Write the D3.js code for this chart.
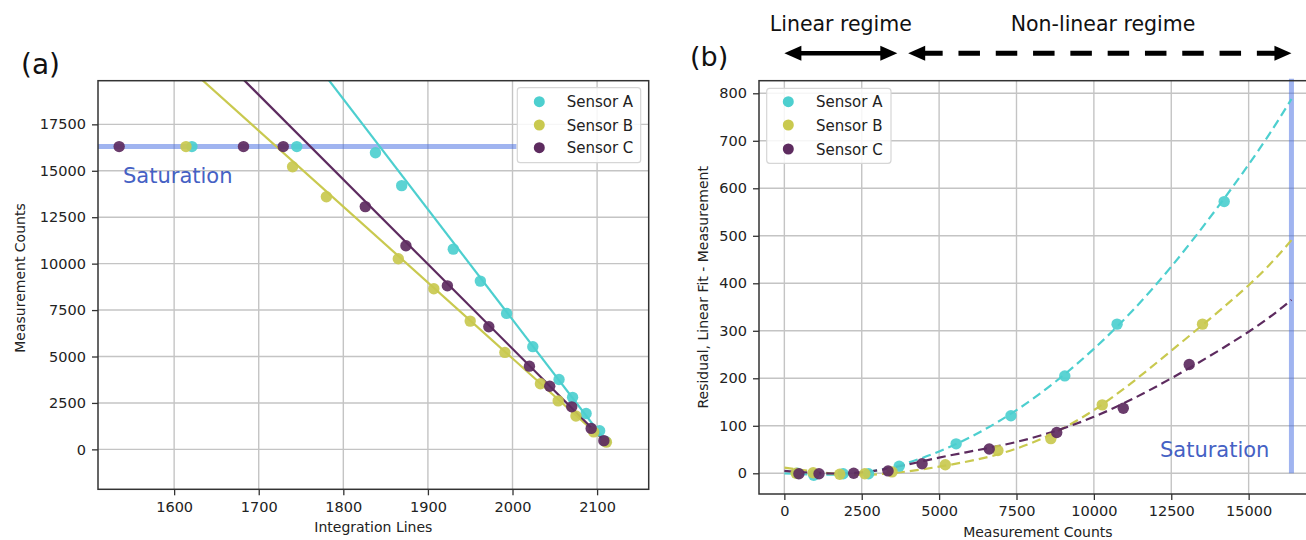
<!DOCTYPE html>
<html><head><meta charset="utf-8">
<script src="https://cdn.jsdelivr.net/npm/d3@7"></script>
<style>
html,body{margin:0;padding:0;background:#fff;}
svg{display:block;font-family:"DejaVu Sans",sans-serif;}
</style></head>
<body>
<svg id="chart" width="1306" height="540"></svg>
<script>
// ---------------- DATA ----------------
const sensors = ["Sensor A", "Sensor B", "Sensor C"];
const colors = ["#4dcfcf", "#c9c94f", "#5d2b5f"];
const saturation = 16383;

// Panel (a): integration lines vs measurement counts
const linesA  = [1621, 1745, 1838, 1869, 1930, 1962, 1993, 2024, 2055, 2071, 2087, 2103, 2110];
const countsA = [16383, 16383, 15970, 14200, 10780, 9060, 7320, 5530, 3760, 2800, 1930, 1000, 430];
const linesB  = [1614, 1740, 1780, 1865, 1907, 1950, 1991, 2033, 2054, 2075, 2096, 2111];
const countsB = [16383, 15220, 13600, 10260, 8650, 6905, 5220, 3530, 2610, 1800, 940, 390];
const linesC  = [1535, 1682, 1729, 1826, 1874, 1923, 1972, 2020, 2044, 2070, 2093, 2108];
const countsC = [16383, 16383, 16383, 13070, 10960, 8805, 6600, 4480, 3400, 2290, 1130, 470];

// Linear fit endpoints (panel a)
const fitLinesA = [1764, 2110], fitCountsA = [21000, 450];
const fitLinesB = [1606, 2110], fitCountsB = [21000, 400];
const fitLinesC = [1658, 2109], fitCountsC = [21000, 450];

// Panel (b): residuals vs measurement counts
const residX_A = [420, 950, 1900, 2720, 3710, 5550, 7320, 9060, 10750, 14210];
const resid_A  = [0, -4, -1, -1, 15, 62, 121, 205, 314, 572];
const residX_B = [380, 930, 1790, 2600, 3480, 5200, 6900, 8610, 10270, 13510];
const resid_B  = [0, 1, -2, -1, 3, 18, 48, 73, 144, 314];
const residX_C = [470, 1120, 2240, 3350, 4450, 6620, 8800, 10950, 13080];
const resid_C  = [-1, -1, 0, 5, 20, 51, 86, 137, 229];

// Fitted (non-linear) residual curves
const curveX = [0, 2500, 5000, 7500, 10000, 12500, 15000, 16383];
const curveA = [0, 1, 46, 133, 262, 435, 650, 788];
const curveB = [12, -3, 14, 52, 133, 258, 396, 491];
const curveC = [5, 2, 33, 66, 119, 200, 298, 365];

// Tick values
const ticksAx = [1600, 1700, 1800, 1900, 2000, 2100];
const ticksAy = [0, 2500, 5000, 7500, 10000, 12500, 15000, 17500];
const ticksBx = [0, 2500, 5000, 7500, 10000, 12500, 15000];
const ticksBy = [0, 100, 200, 300, 400, 500, 600, 700, 800];

// Regime annotation bounds (measurement counts)
const regimeLinear = [0, 3650];
const regimeNonLinear = [4000, 16383];

// ---------------- DRAW ----------------
const svg = d3.select("#chart");
svg.append("rect").attr("width", 1306).attr("height", 540).attr("fill", "#fff");

const gridColor = "#c4c4c4";
const textColor = "#222";

function drawAxes(g, x, y, xt, yt, box) {
  g.append("g").selectAll("line").data(xt).join("line")
    .attr("x1", d => x(d)).attr("x2", d => x(d))
    .attr("y1", box.top).attr("y2", box.bottom)
    .attr("stroke", gridColor).attr("stroke-width", 1.4);
  g.append("g").selectAll("line").data(yt).join("line")
    .attr("y1", d => y(d)).attr("y2", d => y(d))
    .attr("x1", box.left).attr("x2", box.right)
    .attr("stroke", gridColor).attr("stroke-width", 1.4);
}
function drawTicks(g, x, y, xt, yt, box) {
  const ax = g.append("g").attr("transform", `translate(0,${box.bottom})`)
    .call(d3.axisBottom(x).tickValues(xt).tickFormat(d3.format("d")).tickSize(6).tickPadding(6));
  const ay = g.append("g").attr("transform", `translate(${box.left},0)`)
    .call(d3.axisLeft(y).tickValues(yt).tickFormat(d3.format("d")).tickSize(6).tickPadding(6));
  [ax, ay].forEach(a => {
    a.select(".domain").remove();
    a.selectAll("line").attr("stroke", "#333").attr("stroke-width", 1.3);
    a.selectAll("text").attr("fill", textColor).style("font-size", "14.5px")
      .style("font-family", "DejaVu Sans");
  });
  g.append("rect").attr("x", box.left).attr("y", box.top)
    .attr("width", box.right - box.left).attr("height", box.bottom - box.top)
    .attr("fill", "none").attr("stroke", "#333").attr("stroke-width", 1.5);
}
function legend(g, lx, ly, w, h, mx, tx, rows) {
  g.append("rect").attr("x", lx).attr("y", ly).attr("width", w).attr("height", h)
    .attr("rx", 3).attr("fill", "#fff").attr("fill-opacity", 0.85)
    .attr("stroke", "#d6d6d6").attr("stroke-width", 1.2);
  sensors.forEach((s, i) => {
    g.append("circle").attr("cx", mx).attr("cy", rows[i]).attr("r", 5.5).attr("fill", colors[i]);
    g.append("text").attr("x", tx).attr("y", rows[i] + 5.5).text(s)
      .attr("fill", textColor).style("font-size", "15px");
  });
}

// ===== Panel (a) =====
const boxA = {left: 98, right: 648.7, top: 80.7, bottom: 489.3};
const xA = d3.scaleLinear().domain([1510, 2161]).range([boxA.left, boxA.right]);
const yA = d3.scaleLinear().domain([-2150, 19850]).range([boxA.bottom, boxA.top]);
const gA = svg.append("g");
svg.append("clipPath").attr("id", "clipA").append("rect")
  .attr("x", boxA.left).attr("y", boxA.top).attr("width", boxA.right - boxA.left).attr("height", boxA.bottom - boxA.top);
drawAxes(gA, xA, yA, ticksAx, ticksAy, boxA);

gA.append("line").attr("x1", boxA.left).attr("x2", boxA.left + 0.76 * (boxA.right - boxA.left))
  .attr("y1", yA(saturation) + 1.5).attr("y2", yA(saturation) + 1.5)
  .attr("stroke", "#4169e1").attr("stroke-opacity", 0.5).attr("stroke-width", 5);
gA.append("text").attr("x", 123).attr("y", yA(15000) + 12).text("Saturation")
  .attr("fill", "#4561c4").style("font-size", "21px");

const fitsA = [[fitLinesA, fitCountsA], [fitLinesB, fitCountsB], [fitLinesC, fitCountsC]];
const ptsA = [[linesA, countsA], [linesB, countsB], [linesC, countsC]];
const cA = gA.append("g").attr("clip-path", "url(#clipA)");
fitsA.forEach((f, i) => {
  const d = f[0].map((v, k) => [v, f[1][k]]);
  cA.append("path").datum(d)
    .attr("d", d3.line().x(p => xA(p[0])).y(p => yA(p[1])))
    .attr("fill", "none").attr("stroke", colors[i]).attr("stroke-width", 2.2);
});
ptsA.forEach((p, i) => {
  const d = p[0].map((v, k) => [v, p[1][k]]);
  cA.append("g").selectAll("circle").data(d).join("circle")
    .attr("cx", q => xA(q[0])).attr("cy", q => yA(q[1]) + (q[1] === saturation ? 1.5 : 0)).attr("r", 5.7)
    .attr("fill", colors[i]).attr("fill-opacity", 0.92);
});
drawTicks(gA, xA, yA, ticksAx, ticksAy, boxA);
legend(gA, 517.3, 87.7, 123.4, 75, 539.3, 566.7, [101.7, 125, 147.7]);

gA.append("text").attr("x", (boxA.left + boxA.right) / 2).attr("y", 532)
  .attr("text-anchor", "middle").text("Integration Lines").attr("fill", textColor).style("font-size", "14px");
gA.append("text").attr("transform", "translate(25,278) rotate(-90)")
  .attr("text-anchor", "middle").text("Measurement Counts").attr("fill", textColor).style("font-size", "14px");
gA.append("text").attr("x", 21).attr("y", 74).text("(a)").attr("fill", "#111").style("font-size", "28px");

// ===== Panel (b) =====
const boxB = {left: 759, right: 1316.8, top: 80.7, bottom: 494};
const xB = d3.scaleLinear().domain([-819, 17202]).range([boxB.left, boxB.right]);
const yB = d3.scaleLinear().domain([-43.6, 826.5]).range([boxB.bottom, boxB.top]);
const gB = svg.append("g");
drawAxes(gB, xB, yB, ticksBx, ticksBy, boxB);

gB.append("line").attr("x1", xB(saturation)).attr("x2", xB(saturation))
  .attr("y1", yB(0)).attr("y2", boxB.top - 2)
  .attr("stroke", "#4169e1").attr("stroke-opacity", 0.5).attr("stroke-width", 5);
gB.append("text").attr("x", xB(saturation) - 22).attr("y", yB(0) - 16).attr("text-anchor", "end")
  .text("Saturation").attr("fill", "#4561c4").style("font-size", "21px");

const curves = [curveA, curveB, curveC];
curves.forEach((c, i) => {
  const d = curveX.map((v, k) => [v, c[k]]);
  gB.append("path").datum(d)
    .attr("d", d3.line().curve(d3.curveNatural).x(p => xB(p[0])).y(p => yB(p[1])))
    .attr("fill", "none").attr("stroke", colors[i]).attr("stroke-width", 2.2)
    .attr("stroke-dasharray", "9,5");
});
const ptsB = [[residX_A, resid_A], [residX_B, resid_B], [residX_C, resid_C]];
ptsB.forEach((p, i) => {
  const d = p[0].map((v, k) => [v, p[1][k]]);
  gB.append("g").selectAll("circle").data(d).join("circle")
    .attr("cx", q => xB(q[0])).attr("cy", q => yB(q[1])).attr("r", 5.7)
    .attr("fill", colors[i]).attr("fill-opacity", 0.92);
});
drawTicks(gB, xB, yB, ticksBx, ticksBy, boxB);
legend(gB, 766.7, 88.3, 124.3, 75, 788.3, 816, [101.7, 125, 149]);

gB.append("text").attr("x", (boxB.left + boxB.right) / 2).attr("y", 537)
  .attr("text-anchor", "middle").text("Measurement Counts").attr("fill", textColor).style("font-size", "14px");
gB.append("text").attr("transform", `translate(708,${(boxB.top + boxB.bottom) / 2}) rotate(-90)`)
  .attr("text-anchor", "middle").text("Residual, Linear Fit - Measurement").attr("fill", textColor).style("font-size", "14px");
gB.append("text").attr("x", 690).attr("y", 66).text("(b)").attr("fill", "#111").style("font-size", "27px");

// Regime annotations
const arrowY = 53.3, headL = 17, headW = 7.5, arrowW = 4.6;
function head(g, tipX, dir) {
  g.append("path").attr("d",
    `M${tipX},${arrowY} L${tipX - dir * headL},${arrowY - headW} L${tipX - dir * headL},${arrowY + headW} Z`)
    .attr("fill", "#000");
}
const lx0 = xB(regimeLinear[0]), lx1 = xB(regimeLinear[1]);
gB.append("line").attr("x1", lx0 + headL - 2).attr("x2", lx1 - headL + 2)
  .attr("y1", arrowY).attr("y2", arrowY).attr("stroke", "#000").attr("stroke-width", arrowW);
head(gB, lx0, -1); head(gB, lx1, 1);
const nx0 = xB(regimeNonLinear[0]), nx1 = xB(regimeNonLinear[1]);
gB.append("line").attr("x1", nx0 + 13).attr("x2", nx1 - headL + 2)
  .attr("y1", arrowY).attr("y2", arrowY).attr("stroke", "#000").attr("stroke-width", 5)
  .attr("stroke-dasharray", "21.5,15.8");
head(gB, nx0, -1); head(gB, nx1, 1);

gB.append("text").attr("x", (lx0 + lx1) / 2).attr("y", 31).attr("text-anchor", "middle")
  .text("Linear regime").attr("fill", "#111").style("font-size", "20.5px");
gB.append("text").attr("x", 1103).attr("y", 31).attr("text-anchor", "middle")
  .text("Non-linear regime").attr("fill", "#111").style("font-size", "20.5px");
</script>
</body></html>
